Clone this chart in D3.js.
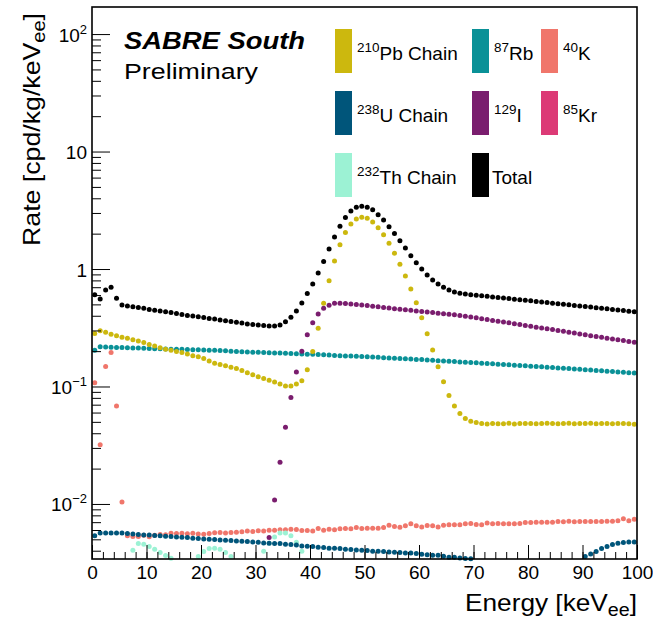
<!DOCTYPE html>
<html>
<head>
<meta charset="UTF-8">
<style>
html, body { margin:0; padding:0; background:#fff; }
svg { display:block; font-family:"Liberation Sans", Arial, Helvetica, sans-serif; }
.frame { fill:none; stroke:#000; stroke-width:1.6; }
.ticks line { stroke:#000; stroke-width:1; }
.ticks path { display:none; }
</style>
</head>
<body>
<svg width="653" height="621"></svg>
<script src="https://d3js.org/d3.v7.min.js"></script>
<script>
// bin centres, 1 keV bins from 0 to 100 keV
var energy = d3.range(0.5, 100, 1);

var total = [
  0.604, 0.555, 0.662, 0.698, 0.563, 0.493, 0.484, 0.477, 0.470, 0.463,
  0.452, 0.445, 0.439, 0.432, 0.426, 0.418, 0.410, 0.403, 0.398, 0.393,
  0.386, 0.380, 0.375, 0.369, 0.363, 0.357, 0.352, 0.347, 0.341, 0.337,
  0.333, 0.330, 0.327, 0.328, 0.333, 0.356, 0.389, 0.439, 0.513, 0.618,
  0.745, 0.924, 1.16, 1.48, 1.87, 2.31, 2.74, 3.12, 3.35, 3.42,
  3.35, 3.20, 2.90, 2.61, 2.29, 2.01, 1.74, 1.51, 1.30, 1.13,
  1.00, 0.889, 0.806, 0.745, 0.698, 0.662, 0.637, 0.621, 0.612, 0.605,
  0.599, 0.592, 0.586, 0.579, 0.573, 0.566, 0.560, 0.554, 0.548, 0.542,
  0.536, 0.530, 0.524, 0.518, 0.512, 0.507, 0.501, 0.496, 0.490, 0.485,
  0.479, 0.474, 0.469, 0.463, 0.458, 0.453, 0.448, 0.443, 0.438, 0.433
];

var pb210 = [
  0.283, 0.298, 0.289, 0.278, 0.270, 0.262, 0.257, 0.250, 0.244, 0.237,
  0.228, 0.221, 0.214, 0.208, 0.203, 0.199, 0.195, 0.189, 0.183, 0.179,
  0.173, 0.165, 0.158, 0.154, 0.150, 0.146, 0.142, 0.137, 0.131, 0.126,
  0.121, 0.117, 0.113, 0.109, 0.105, 0.101, 0.101, 0.105, 0.112, 0.139,
  0.199, 0.313, 0.510, 0.795, 1.17, 1.61, 2.05, 2.42, 2.67, 2.76,
  2.70, 2.51, 2.25, 1.96, 1.66, 1.36, 1.10, 0.872, 0.675, 0.516,
  0.385, 0.281, 0.204, 0.147, 0.110, 0.0840, 0.0681, 0.0590, 0.0533, 0.0505,
  0.0493, 0.0485, 0.0480, 0.0483, 0.0481, 0.0482, 0.0486, 0.0480, 0.0484, 0.0483,
  0.0485, 0.0482, 0.0484, 0.0486, 0.0483, 0.0481, 0.0484, 0.0487, 0.0482, 0.0484,
  0.0483, 0.0486, 0.0482, 0.0484, 0.0483, 0.0481, 0.0485, 0.0483, 0.0482, 0.0477
];

var rb87 = [
  0.203, 0.218, 0.217, 0.216, 0.215, 0.215, 0.214, 0.213, 0.213, 0.212,
  0.211, 0.210, 0.210, 0.209, 0.208, 0.208, 0.207, 0.206, 0.205, 0.205,
  0.204, 0.203, 0.203, 0.202, 0.201, 0.200, 0.199, 0.198, 0.197, 0.196,
  0.196, 0.195, 0.194, 0.193, 0.1925, 0.192, 0.191, 0.190, 0.189, 0.188,
  0.188, 0.187, 0.186, 0.185, 0.184, 0.183, 0.182, 0.1815, 0.181, 0.180,
  0.179, 0.178, 0.177, 0.176, 0.175, 0.174, 0.173, 0.172, 0.171, 0.170,
  0.1695, 0.168, 0.167, 0.166, 0.165, 0.164, 0.163, 0.162, 0.161, 0.160,
  0.159, 0.158, 0.157, 0.156, 0.155, 0.154, 0.153, 0.152, 0.151, 0.150,
  0.149, 0.148, 0.147, 0.146, 0.145, 0.144, 0.143, 0.142, 0.141, 0.140,
  0.139, 0.138, 0.137, 0.136, 0.135, 0.134, 0.133, 0.132, 0.131, 0.130
];

var i129 = [
  0, 0, 0, 0, 0, 0, 0, 0, 0, 0,
  0, 0, 0, 0, 0, 0, 0, 0, 0, 0,
  0, 0, 0, 0, 0, 0, 0, 0, 0, 0,
  0, 0.0024, 0.00519, 0.0108, 0.0226, 0.0449, 0.0804, 0.133, 0.200, 0.276,
  0.349, 0.414, 0.463, 0.492, 0.510, 0.511, 0.508, 0.503, 0.500, 0.494,
  0.488, 0.483, 0.477, 0.471, 0.466, 0.460, 0.454, 0.450, 0.445, 0.440,
  0.435, 0.430, 0.426, 0.421, 0.417, 0.412, 0.408, 0.403, 0.397, 0.390,
  0.384, 0.377, 0.371, 0.365, 0.359, 0.354, 0.348, 0.342, 0.337, 0.331,
  0.326, 0.320, 0.315, 0.310, 0.305, 0.300, 0.295, 0.290, 0.285, 0.280,
  0.276, 0.271, 0.267, 0.263, 0.258, 0.254, 0.250, 0.246, 0.242, 0.238
];

var k40 = [
  0.1075, 0.0319, 0.148, 0.195, 0.0681, 0.0104, 0.00535, 0.00529, 0.00529, 0.00542,
  0.00527, 0.00542, 0.00550, 0.00548, 0.00564, 0.00561, 0.00564, 0.00559, 0.00564, 0.00556,
  0.00553, 0.00561, 0.00570, 0.00572, 0.00566, 0.00572, 0.00575, 0.00581, 0.00590, 0.00583,
  0.00592, 0.00590, 0.00596, 0.00598, 0.00604, 0.00602, 0.00610, 0.00606, 0.00595, 0.00595,
  0.00590, 0.00618, 0.00598, 0.00610, 0.00602, 0.00614, 0.00618, 0.00614, 0.00631, 0.00618,
  0.00622, 0.00622, 0.00622, 0.00631, 0.00660, 0.00643, 0.00634, 0.00651, 0.00677, 0.00651,
  0.00638, 0.00656, 0.00651, 0.00638, 0.00660, 0.00664, 0.00664, 0.00664, 0.00677, 0.00682,
  0.00669, 0.00664, 0.00689, 0.00677, 0.00682, 0.00677, 0.00677, 0.00677, 0.00682, 0.00696,
  0.00696, 0.00700, 0.00700, 0.00700, 0.00700, 0.00710, 0.00704, 0.00714, 0.00704, 0.00710,
  0.00710, 0.00710, 0.00710, 0.00710, 0.00714, 0.00714, 0.00718, 0.00747, 0.00718, 0.00742
];

var kr85 = [
  0.00190, 0.00191, 0.00189, 0.00188, 0.00188, 0.00187, 0.00186, 0.00185, 0.00185, 0.00184,
  0.00183, 0.00182, 0.00182, 0.00181, 0.00180, 0.00179, 0.00179, 0.00178, 0.00177, 0.00176,
  0.00176, 0.00175, 0.00174, 0.00173, 0.00172, 0.00172, 0.00171, 0.00170, 0.00169, 0.00168,
  0.00168, 0.00167, 0.00166, 0.00165, 0.00164, 0.00164, 0.00163, 0.00162, 0.00161, 0.00160,
  0.00159, 0.00158, 0.00158, 0.00157, 0.00156, 0.00155, 0.00154, 0.00153, 0.00152, 0.00152,
  0.00151, 0.00150, 0.00149, 0.00148, 0.00147, 0.00146, 0.00145, 0.00144, 0.00144, 0.00143,
  0.00142, 0.00141, 0.00140, 0.00139, 0.00138, 0.00137, 0.00136, 0.00135, 0.00134, 0.00133,
  0.00132, 0.00131, 0.00130, 0.00129, 0.00128, 0.00127, 0.00126, 0.00125, 0.00124, 0.00123,
  0.00122, 0.00121, 0.00120, 0.00119, 0.00118, 0.00117, 0.00116, 0.00115, 0.00114, 0.00113,
  0.00112, 0.00111, 0.00110, 0.00109, 0.00108, 0.00107, 0.00106, 0.00105, 0.00104, 0.00103
];

var u238 = [
  0.00535, 0.00567, 0.00567, 0.00567, 0.00567, 0.00567, 0.00560, 0.00556, 0.00549, 0.00545,
  0.00545, 0.00539, 0.00535, 0.00532, 0.00528, 0.00524, 0.00521, 0.00518, 0.00511, 0.00508,
  0.00504, 0.00501, 0.00498, 0.00494, 0.00491, 0.00488, 0.00485, 0.00482, 0.00479, 0.00475,
  0.00473, 0.00466, 0.00463, 0.00461, 0.00461, 0.00454, 0.00451, 0.00448, 0.00439, 0.00437,
  0.00434, 0.00428, 0.00426, 0.00420, 0.00420, 0.00418, 0.00412, 0.00410, 0.00406, 0.00404,
  0.00401, 0.00396, 0.00396, 0.00394, 0.00390, 0.00388, 0.00386, 0.00383, 0.00383, 0.00378,
  0.00373, 0.00370, 0.00366, 0.00366, 0.00359, 0.00352, 0.00352, 0.00347, 0.00344, 0.00341,
  0.00328, 0.00311, 0.00292, 0.00270, 0.00251, 0.00232, 0.00218, 0.00205, 0.00196, 0.00190,
  0.00188, 0.00191, 0.00199, 0.00210, 0.00225, 0.00243, 0.00264, 0.00287, 0.00312, 0.00334,
  0.00357, 0.00375, 0.00394, 0.00418, 0.00434, 0.00451, 0.00463, 0.00469, 0.00475, 0.00475
];

var th232 = [
  0.0021, 0.0025, 0.0028, 0.0030, 0.0031, 0.0032, 0.0033, 0.00404, 0.00461, 0.00454,
  0.00434, 0.00412, 0.00386, 0.00364, 0.00345, 0.00318, 0.00298, 0.00292, 0.00310, 0.00357,
  0.00394, 0.00418, 0.00420, 0.00412, 0.00386, 0.00357, 0.00330, 0.00305, 0.00296, 0.00302,
  0.00329, 0.00396, 0.00463, 0.00524, 0.00567, 0.00567, 0.00535, 0.00473, 0.00396, 0.00325,
  0.00288, 0.00270, 0.00262, 0.00258, 0.00255, 0.00251, 0.00249, 0.00246, 0.00243, 0.00241,
  0.00238, 0.00236, 0.00233, 0.00231, 0.00228, 0.00226, 0.00223, 0.00221, 0.00219, 0.00216,
  0.00214, 0.00212, 0.00209, 0.00207, 0.00205, 0.00203, 0.00201, 0.00199, 0.00197, 0.00195,
  0.00193, 0.00191, 0.00189, 0.00187, 0.00185, 0.00183, 0.00182, 0.00180, 0.00178, 0.00176,
  0.00175, 0.00173, 0.00171, 0.00170, 0.00168, 0.00167, 0.00165, 0.00164, 0.00162, 0.00161,
  0.00159, 0.00158, 0.00156, 0.00155, 0.00154, 0.00152, 0.00151, 0.00150, 0.00148, 0.00147
];

// legend entries (row by row, as in the figure)
var legendSup   = ["210", "87", "40", "238", "129", "85", "232", ""];
var legendName  = ["Pb Chain", "Rb", "K", "U Chain", "I", "Kr", "Th Chain", "Total"];
var legendColor = ["#ccb80e", "#0a9197", "#f0766b", "#00557a", "#7a1d6e", "#dc3a76", "#9cf2d4", "#000000"];

var xMajor = [0, 10, 20, 30, 40, 50, 60, 70, 80, 90, 100];
var yMajor = [0.01, 0.1, 1, 10, 100];
var yMajorBase = ["10", "10", "1", "10", "10"];
var yMajorExp  = ["\u22122", "\u22121", "", "", "2"];

var svg = d3.select("svg");

var frameL = 92, frameR = 637, frameT = 7, frameB = 559;

var x = d3.scaleLinear().domain([0, 100]).range([frameL, frameR]);
var y = d3.scaleLog().domain([0.0034, 170]).range([frameB, frameT]);

// draw order: bottom first
var series = [
  {vals: k40,   color: legendColor[2]},
  {vals: kr85,  color: legendColor[5]},
  {vals: th232, color: legendColor[6]},
  {vals: u238,  color: legendColor[3]},
  {vals: rb87,  color: legendColor[1]},
  {vals: i129,  color: legendColor[4]},
  {vals: pb210, color: legendColor[0]},
  {vals: total, color: legendColor[7]}
];

var ymin = y.domain()[0], ymax = y.domain()[1];

var plot = svg.append("g").attr("class", "points");
series.forEach(function(s) {
  var pts = energy.map(function(e, i) { return {e: e, v: s.vals[i]}; })
    .filter(function(d) { return d.v >= ymin && d.v <= ymax; });
  plot.append("g")
    .selectAll("circle")
    .data(pts)
    .enter().append("circle")
      .attr("cx", function(d) { return x(d.e); })
      .attr("cy", function(d) { return y(d.v); })
      .attr("r", 2.5)
      .attr("fill", s.color);
});

// x axis ticks (inward)
svg.append("g")
    .attr("class", "ticks")
    .attr("transform", "translate(0," + frameB + ")")
    .call(d3.axisBottom(x).tickValues(d3.range(0, 101, 2)).tickSizeInner(-7).tickSizeOuter(0).tickFormat(""));

var xAx = svg.append("g")
    .attr("class", "ticks")
    .attr("transform", "translate(0," + frameB + ")")
    .call(d3.axisBottom(x).tickValues(xMajor).tickSizeInner(-14).tickSizeOuter(0).tickPadding(7));
xAx.selectAll("text")
    .attr("font-size", 19)
    .attr("font-family", "Liberation Sans, Arial, sans-serif")
    .attr("fill", "#000");

// y axis ticks (inward)
var yMinor = y.ticks().filter(function(v) { return yMajor.indexOf(v) < 0; });
svg.append("g")
    .attr("class", "ticks")
    .attr("transform", "translate(" + frameL + ",0)")
    .call(d3.axisLeft(y).tickValues(yMinor).tickSizeInner(-9).tickSizeOuter(0).tickFormat(""));
svg.append("g")
    .attr("class", "ticks")
    .attr("transform", "translate(" + frameL + ",0)")
    .call(d3.axisLeft(y).tickValues(yMajor).tickSizeInner(-18).tickSizeOuter(0).tickFormat(""));

var yLab = svg.append("g").attr("font-size", 19).attr("text-anchor", "end");
yMajor.forEach(function(v, i) {
  var t = yLab.append("text")
      .attr("x", frameL - 5)
      .attr("y", y(v) + 7.5);
  t.append("tspan").text(yMajorBase[i]);
  if (yMajorExp[i]) {
    t.append("tspan").attr("font-size", 13).attr("dy", -8).text(yMajorExp[i]);
  }
});

// frame
svg.append("rect")
    .attr("class", "frame")
    .attr("x", frameL).attr("y", frameT)
    .attr("width", frameR - frameL).attr("height", frameB - frameT);

// axis titles
var xt = svg.append("text")
    .attr("x", frameR).attr("y", 611)
    .attr("text-anchor", "end")
    .attr("font-size", 24)
    .attr("textLength", 172).attr("lengthAdjust", "spacingAndGlyphs");
xt.append("tspan").text("Energy [keV");
xt.append("tspan").attr("font-size", 18).attr("dy", 5).text("ee");
xt.append("tspan").attr("dy", -5).text("]");

var yt = svg.append("text")
    .attr("transform", "translate(40,13) rotate(-90)")
    .attr("text-anchor", "end")
    .attr("font-size", 24)
    .attr("textLength", 233).attr("lengthAdjust", "spacingAndGlyphs");
yt.append("tspan").text("Rate [cpd/kg/keV");
yt.append("tspan").attr("font-size", 18).attr("dy", 5).text("ee");
yt.append("tspan").attr("dy", -5).text("]");

// labels
svg.append("text")
    .attr("x", 124).attr("y", 49)
    .attr("font-size", 23).attr("font-weight", "bold").attr("font-style", "italic")
    .attr("textLength", 181).attr("lengthAdjust", "spacingAndGlyphs")
    .text("SABRE South");
svg.append("text")
    .attr("x", 124).attr("y", 79)
    .attr("font-size", 22)
    .attr("textLength", 134).attr("lengthAdjust", "spacingAndGlyphs")
    .text("Preliminary");

// legend
var colX = [335, 472, 541];
var rowY = [29, 91, 153];
var leg = svg.append("g").attr("class", "legend");
legendName.forEach(function(name, i) {
  var cx = colX[i % 3], cy = rowY[Math.floor(i / 3)];
  leg.append("rect")
      .attr("x", cx).attr("y", cy)
      .attr("width", 17).attr("height", 44)
      .attr("fill", legendColor[i]);
  var t = leg.append("text")
      .attr("x", cx + (legendSup[i] ? 22 : 20))
      .attr("y", cy + 31)
      .attr("font-size", 19);
  if (legendSup[i]) {
    t.append("tspan").attr("font-size", 13.5).attr("dy", -8).text(legendSup[i]);
    t.append("tspan").attr("dy", 8).text(name);
  } else {
    t.text(name);
  }
});
</script>
</body>
</html>
